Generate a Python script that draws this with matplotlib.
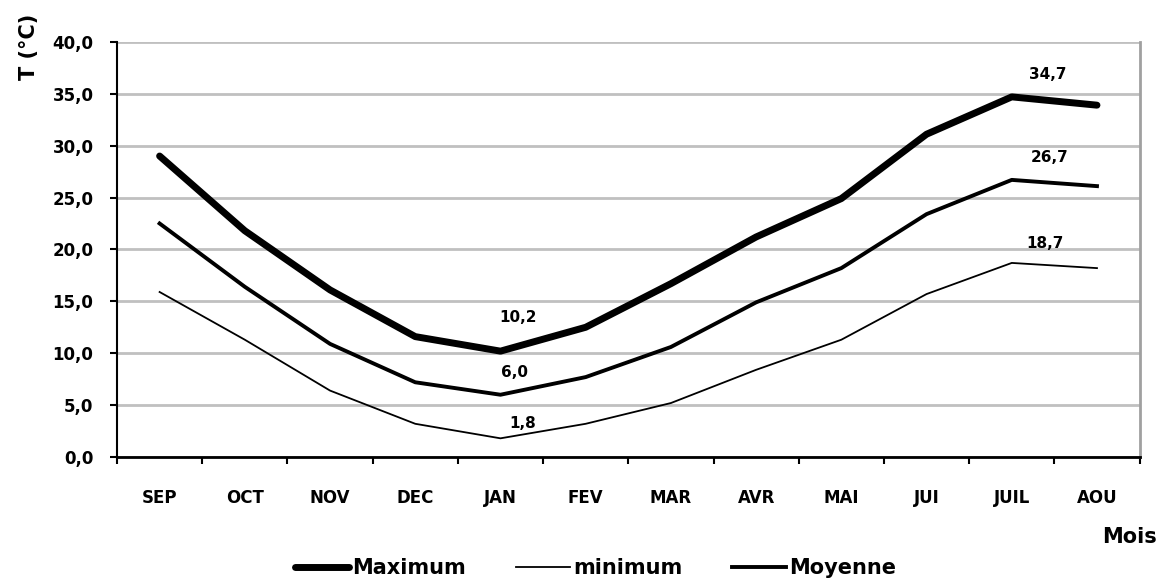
#!/usr/bin/env python3
# coding: utf-8

#--- imports ---#
import matplotlib
matplotlib.use("Agg")
import matplotlib.pyplot as plt
import numpy as np

#--- data ---#
months   = ['SEP', 'OCT', 'NOV', 'DEC', 'JAN', 'FEV', 'MAR', 'AVR', 'MAI', 'JUI', 'JUIL', 'AOU']
tMax     = [29.0, 21.8, 16.1, 11.6, 10.2, 12.5, 16.7, 21.2, 24.9, 31.1, 34.7, 33.9]
tMoyenne = [22.5, 16.4, 10.9, 7.2, 6.0, 7.7, 10.6, 14.9, 18.2, 23.4, 26.7, 26.1]
tMin     = [15.9, 11.3, 6.4, 3.2, 1.8, 3.2, 5.2, 8.4, 11.3, 15.7, 18.7, 18.2]
labelIdx = [4, 10]          # JAN, JUIL

#--- main ---#
def main():

    #--- rcParams ---#
    plt.rcParams['font.family']     = ['DejaVu Sans']
    plt.rcParams['font.weight']     = 'bold'
    plt.rcParams['axes.axisbelow']  = True

    fig = plt.figure(figsize=(11.7, 5.79), dpi=100)
    ax = fig.add_axes([0.1, 0.2107, 0.874, 0.717])

    x = np.arange(len(months))

    # lines
    ax.plot(x, tMax, color='black', lw=5.0, solid_capstyle='round', label='Maximum')
    ax.plot(x, tMin, color='black', lw=1.3, label='minimum')
    ax.plot(x, tMoyenne, color='black', lw=2.8, label='Moyenne')

    # data labels (offsets in points: JAN / JUIL)
    offsets = {
        'max': [(13, 24), (26, 16)],
        'moy': [(10, 16), (27, 16)],
        'min': [(16, 11), (24, 14)],
    }
    for key, series in (('max', tMax), ('moy', tMoyenne), ('min', tMin)):
        for (dx, dy), i in zip(offsets[key], labelIdx):
            ax.annotate(f"{series[i]:.1f}".replace('.', ','), (x[i], series[i]),
                        xytext=(dx, dy), textcoords='offset points',
                        ha='center', va='center', fontsize=11, fontweight='bold')

    # axes
    ax.set_xlim(-0.5, len(months) - 0.5)
    ax.set_ylim(0, 40)
    yTicks = np.arange(0, 40.1, 5)
    ax.set_yticks(yTicks)
    ax.set_yticklabels([f"{v:.1f}".replace('.', ',') for v in yTicks])
    ax.set_xticks(x)
    ax.set_xticklabels(months)
    ax.set_xticks(np.arange(-0.5, len(months)), minor=True)

    ax.tick_params(axis='y', which='major', direction='out', length=5, width=1.5,
                   pad=12, labelsize=12)
    ax.tick_params(axis='x', which='major', length=0, pad=23, labelsize=12)
    ax.tick_params(axis='x', which='minor', direction='out', length=5, width=1.5)

    ax.grid(axis='y', color='#c0c0c0', lw=2)
    ax.spines['top'].set_visible(False)
    ax.spines['right'].set_color('#a0a0a0')
    ax.spines['right'].set_linewidth(2)
    ax.spines['left'].set_linewidth(1.5)
    ax.spines['bottom'].set_linewidth(2)

    # titles
    fig.text(0.025, 0.919, 'T (°C)', rotation=90, ha='center', va='center',
             fontsize=15, fontweight='bold')
    fig.text(0.965, 0.073, 'Mois', ha='center', va='center',
             fontsize=15, fontweight='bold')

    # legend
    fig.legend(loc='center', bbox_to_anchor=(0.509, 0.019), ncol=3, frameon=False,
               fontsize=15, handlelength=2.6, columnspacing=2.4, handletextpad=0.15)

    fig.savefig('out.png', dpi=100)

if __name__ == "__main__":
    main()
